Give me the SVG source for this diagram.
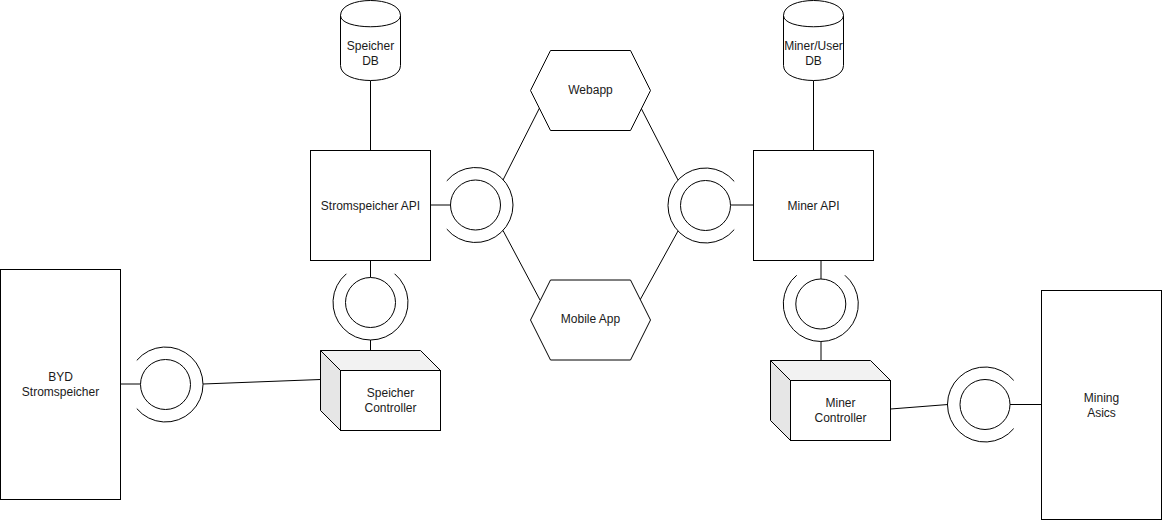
<svg xmlns="http://www.w3.org/2000/svg" xmlns:xlink="http://www.w3.org/1999/xlink" width="1163" height="521" viewBox="0 0 1163 521">
  <style>
    .shape { fill: #ffffff; stroke: #000000; stroke-width: 1; }
    .edge { fill: none; stroke: #000000; stroke-width: 1; }
    .side { fill: #e6e6e6; stroke: #000000; stroke-width: 1; stroke-linejoin: round; }
    .top { fill: #f2f2f2; stroke: #000000; stroke-width: 1; stroke-linejoin: round; }
    .label { font-family: "Liberation Sans", Arial, sans-serif; font-size: 12px; fill: #1a1a1a; text-anchor: middle; dominant-baseline: central; }
  </style>
  <defs>
    <!-- provided/required interface: ball plus socket arc, socket opening toward -x -->
    <g id="iface">
      <circle cx="0" cy="0" r="25" class="shape"/>
      <path d="M -28.73,-24.1 A 37.5 37.5 0 1 1 -28.73,24.1" class="edge"/>
    </g>
  </defs>

  <rect width="1163" height="521" fill="#ffffff"/>

  <!-- connectors -->
  <g id="connectors">
    <line x1="370.5" y1="80.5" x2="370.5" y2="150.5" class="edge"/>
    <line x1="813.5" y1="80.5" x2="813.5" y2="150.5" class="edge"/>
    <line x1="430.5" y1="205" x2="450.5" y2="205" class="edge"/>
    <line x1="730.5" y1="205" x2="753.5" y2="205" class="edge"/>
    <line x1="503" y1="180" x2="539.5" y2="108" class="edge"/>
    <line x1="503" y1="230.5" x2="540" y2="300" class="edge"/>
    <line x1="678" y1="180" x2="641" y2="108" class="edge"/>
    <line x1="678" y1="231" x2="640" y2="300" class="edge"/>
    <line x1="370.5" y1="260.5" x2="370.5" y2="277.5" class="edge"/>
    <line x1="370.5" y1="340" x2="370.5" y2="350.5" class="edge"/>
    <line x1="821" y1="260.5" x2="821" y2="279" class="edge"/>
    <line x1="821" y1="341.5" x2="821" y2="360.5" class="edge"/>
    <line x1="120.5" y1="384" x2="140.5" y2="384" class="edge"/>
    <line x1="203" y1="384" x2="320.5" y2="379.5" class="edge"/>
    <line x1="890.5" y1="409" x2="948" y2="404.5" class="edge"/>
    <line x1="1010" y1="404.5" x2="1041.5" y2="404.5" class="edge"/>
  </g>

  <!-- interfaces -->
  <g id="if-strom-api"><use xlink:href="#iface" href="#iface" transform="translate(475.5 205)"/></g>
  <g id="if-miner-api"><use xlink:href="#iface" href="#iface" transform="translate(705.5 205.5) rotate(180)"/></g>
  <g id="if-strom-ctrl"><use xlink:href="#iface" href="#iface" transform="translate(370.5 302.5) rotate(90)"/></g>
  <g id="if-miner-ctrl"><use xlink:href="#iface" href="#iface" transform="translate(820.8 304) rotate(90)"/></g>
  <g id="if-byd"><use xlink:href="#iface" href="#iface" transform="translate(165.5 384.5)"/></g>
  <g id="if-asics"><use xlink:href="#iface" href="#iface" transform="translate(985 404.5) rotate(180)"/></g>

  <!-- databases -->
  <g id="speicher-db">
    <path d="M340.5,15.5 C340.5,-4.5 400.5,-4.5 400.5,15.5 L400.5,65.5 C400.5,85.5 340.5,85.5 340.5,65.5 Z" class="shape"/>
    <path d="M340.5,15.5 C340.5,30.5 400.5,30.5 400.5,15.5" class="edge"/>
    <text x="370.5" y="46" class="label">Speicher</text>
    <text x="370.5" y="61" class="label">DB</text>
  </g>
  <g id="miner-user-db">
    <path d="M783.5,15.5 C783.5,-4.5 843.5,-4.5 843.5,15.5 L843.5,65.5 C843.5,85.5 783.5,85.5 783.5,65.5 Z" class="shape"/>
    <path d="M783.5,15.5 C783.5,30.5 843.5,30.5 843.5,15.5" class="edge"/>
    <text x="813.5" y="46" class="label">Miner/User</text>
    <text x="813.5" y="61" class="label">DB</text>
  </g>

  <!-- APIs -->
  <g id="stromspeicher-api">
    <rect x="310.5" y="150.5" width="120" height="110" class="shape"/>
    <text x="370.5" y="205.5" class="label">Stromspeicher API</text>
  </g>
  <g id="miner-api">
    <rect x="753.5" y="150.5" width="120" height="110" class="shape"/>
    <text x="813.5" y="205.5" class="label">Miner API</text>
  </g>

  <!-- clients -->
  <g id="webapp">
    <polygon points="530.5,90.5 550.5,50.5 630.5,50.5 650.5,90.5 630.5,130.5 550.5,130.5" class="shape"/>
    <text x="590.5" y="90" class="label">Webapp</text>
  </g>
  <g id="mobile-app">
    <polygon points="530.5,320 550.5,280 630.5,280 650.5,320 630.5,360 550.5,360" class="shape"/>
    <text x="590.5" y="319" class="label">Mobile App</text>
  </g>

  <!-- controllers (3D boxes) -->
  <g id="speicher-controller">
    <polygon points="320.5,350.5 420.5,350.5 440.5,370.5 340.5,370.5" class="top"/>
    <polygon points="320.5,350.5 340.5,370.5 340.5,430.5 320.5,410.5" class="side"/>
    <rect x="340.5" y="370.5" width="100" height="60" class="shape"/>
    <text x="390.5" y="392.5" class="label">Speicher</text>
    <text x="390.5" y="407.5" class="label">Controller</text>
  </g>
  <g id="miner-controller">
    <polygon points="770.5,360.5 870.5,360.5 890.5,380.5 790.5,380.5" class="top"/>
    <polygon points="770.5,360.5 790.5,380.5 790.5,440.5 770.5,420.5" class="side"/>
    <rect x="790.5" y="380.5" width="100" height="60" class="shape"/>
    <text x="840.5" y="402.5" class="label">Miner</text>
    <text x="840.5" y="417.5" class="label">Controller</text>
  </g>

  <!-- hardware -->
  <g id="byd-stromspeicher">
    <rect x="0.5" y="269.5" width="120" height="230" class="shape"/>
    <text x="60.5" y="377" class="label">BYD</text>
    <text x="60.5" y="392" class="label">Stromspeicher</text>
  </g>
  <g id="mining-asics">
    <rect x="1041.5" y="290.5" width="120" height="229" class="shape"/>
    <text x="1101.5" y="397.5" class="label">Mining</text>
    <text x="1101.5" y="412.5" class="label">Asics</text>
  </g>
</svg>
